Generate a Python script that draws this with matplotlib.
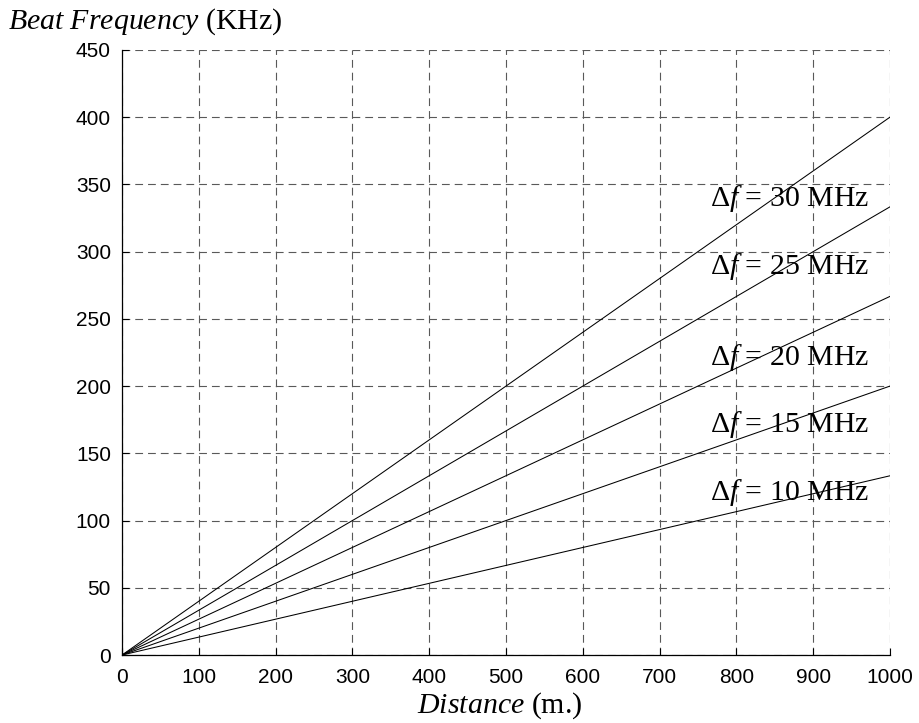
import matplotlib
matplotlib.use('Agg')
import matplotlib.pyplot as plt

# datos
distancia = [0, 1000]
delta_f = [10, 15, 20, 25, 30]  # MHz
beat_fin = [133.3, 200, 266.7, 333.3, 400]  # KHz a 1000 m
etiqueta_y = [115.3, 166.1, 215.7, 283.3, 333.6]  # linea base de los textos

plt.rcParams['mathtext.fontset'] = 'custom'
plt.rcParams['mathtext.rm'] = 'Liberation Serif'
plt.rcParams['mathtext.it'] = 'Liberation Serif:italic'
plt.rcParams['font.family'] = 'Liberation Sans'

fig = plt.figure(figsize=(9.2, 7.23), dpi=100)
ax = fig.add_axes([0.1326, 0.094, 0.8348, 0.837])

for df, fin, ty in zip(delta_f, beat_fin, etiqueta_y):
  ax.plot(distancia, [0, fin], color='black', lw=0.75)
  ax.text(765.6, ty, r'$\Delta\mathit{f}$ = %d MHz' % df, fontsize=21.5,
          family='Liberation Serif', va='baseline', ha='left')

ax.set_xlim(0, 1000)
ax.set_ylim(0, 450)
ax.set_xticks(range(0, 1001, 100))
ax.set_yticks(range(0, 451, 50))
ax.tick_params(direction='in', length=5, labelsize=15, color='black', width=0.8)
ax.tick_params(axis='x', pad=9)
ax.tick_params(axis='y', pad=8)
ax.grid(True, color='0.35', linestyle=(0, (7, 4.5)), lw=0.8)
for s in ['top', 'right']:
  ax.spines[s].set_visible(False)
for s in ['left', 'bottom']:
  ax.spines[s].set_linewidth(0.9)

fig.text(0.009, 0.961, r'$\mathit{Beat\ Frequency}$ (KHz)', fontsize=21.5,
         family='Liberation Serif', va='baseline', ha='left')
fig.text(0.543, 0.0138, r'$\mathit{Distance}$ (m.)', fontsize=21.5,
         family='Liberation Serif', va='baseline', ha='center')

fig.savefig('out.png', dpi=100)
